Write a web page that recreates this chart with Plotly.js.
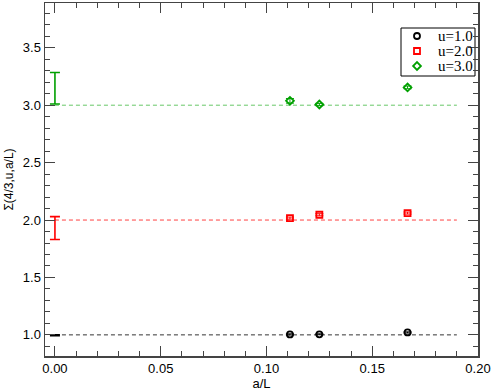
<!DOCTYPE html>
<html>
<head>
<meta charset="utf-8">
<script src="https://cdn.plot.ly/plotly-3.0.1.min.js"></script>
<style>body{margin:0;padding:0;background:#fff;}</style>
</head>
<body>
<div id="chart" style="width:494px;height:392px;"></div>
<script>
// lattice spacings a/L and the step scaling values
var aL = [0.1111, 0.125, 0.1667];
var labels = ['u=1.0', 'u=2.0', 'u=3.0'];
var sigma1 = [1.004, 1.005, 1.021];
var err1 = [0.005, 0.004, 0.005];
var sigma2 = [2.017, 2.046, 2.061];
var err2 = [0.009, 0.009, 0.009];
var sigma3 = [3.038, 3.006, 3.155];
var err3 = [0.02, 0.01, 0.012];
// continuum limit bands at a/L = 0 (lower, upper)
var contLo = [0.993, 1.83, 3.01];
var contHi = [1.001, 2.03, 3.285];
// reference lines
var uVals = [1.0, 2.0, 3.0];
var lineX = [0, 0.19];

var colors = ['black', 'red', '#00a000'];
var lightColors = ['rgba(0,0,0,0.8)', 'rgba(255,0,0,0.75)', 'rgba(0,160,0,0.6)'];
var symbols = ['circle-open', 'square-open', 'diamond-open'];
var series = [[sigma1, err1], [sigma2, err2], [sigma3, err3]];

var data = [];
for (var i = 0; i < 3; i++) {
    data.push({
        x: lineX, y: [uVals[i], uVals[i]], mode: 'lines', showlegend: false,
        line: {color: lightColors[i], width: 1, dash: '4px,3px'}, hoverinfo: 'skip'
    });
    var mid = (contLo[i] + contHi[i]) / 2;
    var half = (contHi[i] - contLo[i]) / 2;
    data.push({
        x: [0], y: [mid], mode: 'markers', showlegend: false,
        marker: {size: 1, color: 'rgba(0,0,0,0)'},
        error_y: {type: 'constant', value: half, color: colors[i], thickness: 1.6, width: 5}
    });
}
for (var i = 0; i < 3; i++) {
    data.push({
        x: aL, y: series[i][0], name: labels[i], mode: 'markers', showlegend: false,
        marker: {symbol: symbols[i], size: 6, color: colors[i], line: {width: 1.8, color: colors[i]}},
        error_y: {type: 'data', array: series[i][1], color: colors[i], thickness: 1, width: 4}
    });
}

// legend drawn by hand on a pixel-sized overlay axis (xmgrace style box)
var legRows = [36, 51, 66];
data.push({
    x: [417, 417, 417], y: legRows, xaxis: 'x2', yaxis: 'y2', mode: 'markers',
    showlegend: false, hoverinfo: 'skip',
    marker: {symbol: symbols, size: 6, color: colors, line: {width: 1.8, color: colors}}
});
var annotations = [];
for (var i = 0; i < 3; i++) {
    annotations.push({
        x: 436, y: legRows[i], xref: 'x2', yref: 'y2', text: labels[i], showarrow: false,
        xanchor: 'left', yanchor: 'middle',
        font: {family: 'Liberation Serif, Times New Roman, serif', size: 15, color: 'black'}
    });
}

var layout = {
    width: 494, height: 392,
    margin: {l: 45, r: 16, t: 3, b: 36},
    plot_bgcolor: 'white', paper_bgcolor: 'white',
    font: {family: 'Liberation Sans, Arial, sans-serif', size: 13, color: 'black'},
    showlegend: false,
    xaxis: {
        range: [-0.0047, 0.2], tick0: 0, dtick: 0.05, tickformat: '.2f',
        ticks: 'inside', ticklen: 10, tickwidth: 1, tickcolor: '#444',
        minor: {ticks: 'inside', dtick: 0.01, ticklen: 5, tickcolor: '#444'},
        showline: true, linecolor: '#444', linewidth: 1.5, mirror: 'ticks',
        showgrid: false, zeroline: false,
        title: {text: 'a/L', font: {size: 13}, standoff: 2}
    },
    yaxis: {
        range: [0.816, 3.89], tick0: 0, dtick: 0.5, tickformat: '.1f',
        ticks: 'inside', ticklen: 10, tickwidth: 1, tickcolor: '#444',
        minor: {ticks: 'inside', dtick: 0.1, ticklen: 5, tickcolor: '#444'},
        showline: true, linecolor: '#444', linewidth: 1.5, mirror: 'ticks',
        showgrid: false, zeroline: false,
        title: {text: 'Σ(4/3,u,a/L)', font: {size: 12}, standoff: 6}
    },
    xaxis2: {overlaying: 'x', range: [45, 478], visible: false, fixedrange: true},
    yaxis2: {overlaying: 'y', range: [356, 3], visible: false, fixedrange: true},
    shapes: [{
        type: 'rect', xref: 'x2', yref: 'y2', x0: 401, x1: 475, y0: 28, y1: 76,
        line: {color: 'black', width: 1}, fillcolor: 'white', layer: 'below'
    }],
    annotations: annotations
};

Plotly.newPlot('chart', data, layout, {displayModeBar: false, staticPlot: true});
</script>
</body>
</html>
